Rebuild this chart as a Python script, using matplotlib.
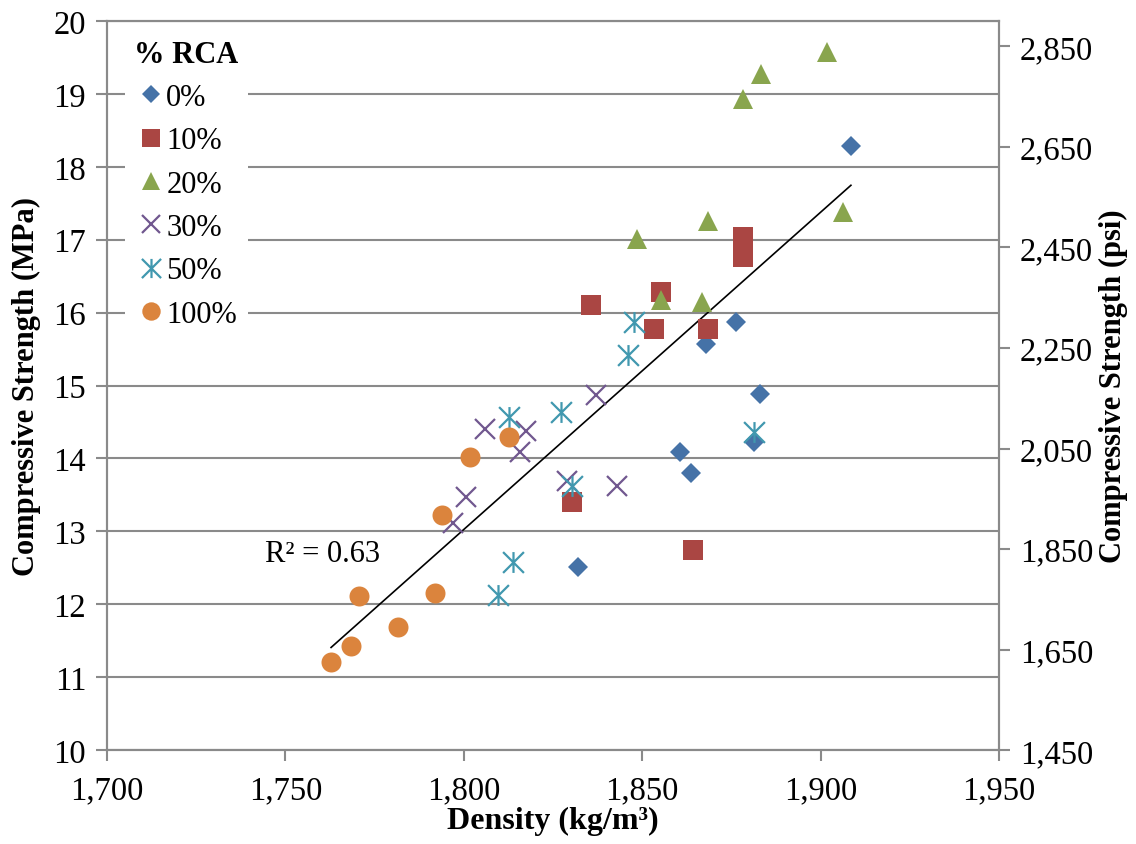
import numpy as np
import matplotlib
matplotlib.use('Agg')
import matplotlib.pyplot as plt
from matplotlib.path import Path
from matplotlib.ticker import FuncFormatter

plt.rcParams['font.family'] = ['Liberation Serif', 'DejaVu Serif']

# Datos: densidad (kg/m3) y resistencia (MPa)
rca_0_x = [1908.5, 1876.3, 1867.9, 1883.0, 1860.6, 1863.7, 1881.3, 1832.0]
rca_0_y = [18.29, 15.87, 15.57, 14.88, 14.09, 13.80, 14.22, 12.51]

rca_10_x = [1878.3, 1878.3, 1855.3, 1853.3, 1868.4, 1835.7, 1830.3, 1864.2]
rca_10_y = [17.04, 16.76, 16.28, 15.78, 15.78, 16.10, 13.40, 12.74]

rca_20_x = [1901.8, 1883.3, 1878.3, 1906.3, 1868.4, 1848.5, 1855.3, 1866.8]
rca_20_y = [19.57, 19.27, 18.93, 17.38, 17.26, 17.01, 16.17, 16.15]

rca_30_x = [1837.1, 1805.9, 1817.4, 1815.8, 1800.6, 1797.0, 1828.9, 1842.9]
rca_30_y = [14.87, 14.40, 14.38, 14.09, 13.47, 13.11, 13.69, 13.62]

rca_50_x = [1847.7, 1846.0, 1827.2, 1812.7, 1830.3, 1881.3, 1813.8, 1809.6]
rca_50_y = [15.87, 15.42, 14.64, 14.57, 13.62, 14.36, 12.58, 12.13]

rca_100_x = [1762.8, 1768.4, 1770.6, 1781.6, 1791.9, 1793.9, 1801.7, 1812.7]
rca_100_y = [11.21, 11.43, 12.11, 11.69, 12.15, 13.22, 14.02, 14.29]

labels = ['0%', '10%', '20%', '30%', '50%', '100%']
r2_text = 'R² = 0.63'
psi_ticks = [1450, 1650, 1850, 2050, 2250, 2450, 2650, 2850]
MPA_TO_PSI = 145.038

# marcador asterisco tipo Excel (X + linea vertical)
star = Path([(-1, -1), (1, 1), (-1, 1), (1, -1), (0, -1), (0, 1)],
            [Path.MOVETO, Path.LINETO, Path.MOVETO, Path.LINETO, Path.MOVETO, Path.LINETO])

series = [
    (rca_0_x, rca_0_y, 'D', '#4572A7', 10.2),
    (rca_10_x, rca_10_y, 's', '#AA4643', 14.4),
    (rca_20_x, rca_20_y, '^', '#89A54E', 14.4),
    (rca_30_x, rca_30_y, 'x', '#71588F', 14.0),
    (rca_50_x, rca_50_y, star, '#4198AF', 15.0),
    (rca_100_x, rca_100_y, 'o', '#DB843D', 14.4),
]

fig = plt.figure(figsize=(11.36, 8.45), dpi=100)
ax = fig.add_axes([0.0942, 0.1112, 0.7852, 0.8628])
grey = '#8a8a8a'

for (xs, ys, mk, col, ms), lab in zip(series, labels):
    if mk == 'x' or isinstance(mk, Path):
        ax.plot(xs, ys, linestyle='none', marker=mk, color=col, markersize=ms,
                markeredgewidth=1.6, label=lab, zorder=3)
    else:
        ax.plot(xs, ys, linestyle='none', marker=mk, color=col, markersize=ms,
                markeredgewidth=0, label=lab, zorder=3)

# Linea de tendencia
all_x = np.concatenate([np.array(s[0]) for s in series])
all_y = np.concatenate([np.array(s[1]) for s in series])
m, b = np.polyfit(all_x, all_y, 1)
xf = np.array([all_x.min(), all_x.max()])
ax.plot(xf, m * xf + b, color='black', linewidth=1.2, zorder=2)
ax.text(1744.3, 12.69, r2_text, fontsize=22, va='center', ha='left')

ax.set_xlim(1700, 1950)
ax.set_ylim(10, 20)
ax.set_xticks(np.arange(1700, 1951, 50))
ax.set_yticks(np.arange(10, 21, 1))
ax.xaxis.set_major_formatter(FuncFormatter(lambda v, p: '{:,.0f}'.format(v)))
ax.grid(axis='y', color=grey, linewidth=1.5, zorder=0)
ax.set_axisbelow(True)
for sp in ax.spines.values():
    sp.set_color(grey)
    sp.set_linewidth(1.5)
ax.tick_params(axis='both', direction='out', length=8, width=1.5, color=grey,
               labelsize=23.5, pad=7)
ax.tick_params(axis='x', pad=10)
ax.set_xlabel('Density (kg/m³)', fontsize=23, fontweight='bold', labelpad=0)
ax.set_ylabel('Compressive Strength (MPa)', fontsize=22, fontweight='bold', labelpad=9)

ax2 = ax.twinx()
ax2.set_ylim(10 * MPA_TO_PSI, 20 * MPA_TO_PSI)
ax2.set_yticks(psi_ticks)
ax2.yaxis.set_major_formatter(FuncFormatter(lambda v, p: '{:,.0f}'.format(v)))
ax2.tick_params(axis='y', direction='out', length=8, width=1.5, color=grey,
                labelsize=23.5, pad=7)
for sp in ax2.spines.values():
    sp.set_color(grey)
    sp.set_linewidth(1.5)
ax2.set_ylabel('Compressive Strength (psi)', fontsize=22, fontweight='bold', labelpad=4)

leg = ax.legend(loc='upper left', bbox_to_anchor=(0.003, 1.008), title='% RCA',
                fontsize=22, title_fontproperties={'weight': 'bold', 'size': 22},
                frameon=True, handletextpad=0.0, handlelength=1.0,
                labelspacing=0.47, borderpad=0.3, markerscale=0.92)
leg.get_frame().set_edgecolor('none')
leg.get_frame().set_facecolor('white')
leg.get_frame().set_alpha(1)
leg.set_zorder(5)

fig.savefig('out.png', dpi=100)
